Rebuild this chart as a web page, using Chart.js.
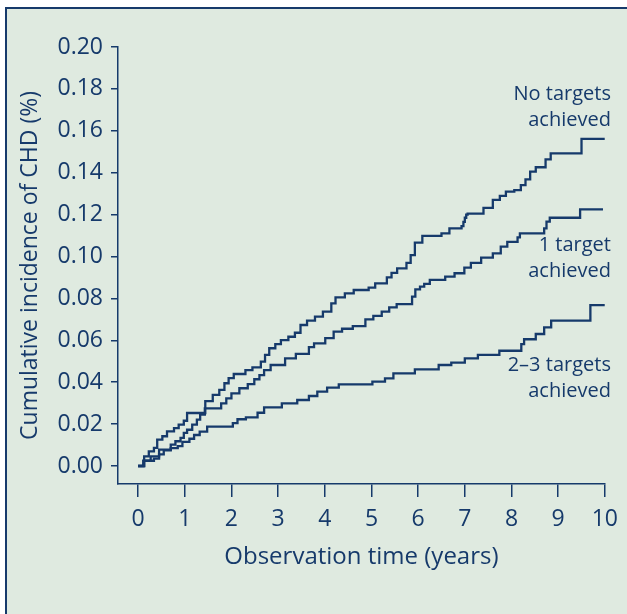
<!DOCTYPE html>
<html>
<head>
<meta charset="utf-8">
<script src="https://cdn.jsdelivr.net/npm/chart.js@4"></script>
<style>
  html, body { margin: 0; padding: 0; background: #fff; overflow: hidden; }
  #panel {
    position: absolute; left: 5px; top: 7px; width: 700px; height: 700px;
    background: #dfeae0; border-top: 2px solid #163a6b; border-left: 2px solid #163a6b;
  }
  #chart { position: absolute; left: 0; top: 0; }
</style>
</head>
<body>
<div id="panel"></div>
<canvas id="chart" width="627" height="614"></canvas>
<script>
const NAVY = "#163a6b";
const FONT = "'Open Sans', 'Noto Sans', sans-serif";

const X_TICKS = [0, 1, 2, 3, 4, 5, 6, 7, 8, 9, 10];
const Y_TICKS = [0, 0.02, 0.04, 0.06, 0.08, 0.10, 0.12, 0.14, 0.16, 0.18, 0.20];

// No targets achieved
const NONE_T = [0, 0.13, 0.23, 0.34, 0.41, 0.52, 0.62, 0.77, 0.87, 0.98, 1.05, 1.44, 1.60, 1.74, 1.85,
  1.94, 2.05, 2.30, 2.45, 2.63, 2.72, 2.81, 2.94, 3.06, 3.22, 3.36, 3.48, 3.62, 3.79, 3.96, 4.14,
  4.23, 4.43, 4.62, 4.94, 5.08, 5.33, 5.43, 5.55, 5.75, 5.84, 5.93, 6.09, 6.50, 6.67, 6.93, 6.97,
  7.00, 7.03, 7.06, 7.40, 7.60, 7.75, 7.88, 8.06, 8.20, 8.30, 8.40, 8.52, 8.73, 8.84, 9.50, 10.0];
const NONE_V = [0, 0.0046, 0.0070, 0.0086, 0.0126, 0.0142, 0.0165, 0.0181, 0.0197, 0.0216, 0.0253,
  0.0310, 0.0339, 0.0363, 0.0395, 0.0419, 0.0439, 0.0458, 0.0471, 0.0498, 0.0530, 0.0562, 0.0582,
  0.0601, 0.0617, 0.0636, 0.0673, 0.0694, 0.0713, 0.0737, 0.0776, 0.0805, 0.0824, 0.0840, 0.0851,
  0.0872, 0.0900, 0.0922, 0.0943, 0.0970, 0.1007, 0.1066, 0.1098, 0.1110, 0.1134, 0.1145, 0.1165,
  0.1185, 0.1200, 0.1205, 0.1232, 0.1270, 0.1289, 0.1310, 0.1317, 0.1341, 0.1368, 0.1405, 0.1426,
  0.1464, 0.1492, 0.1561, 0.1561];

// 1 target achieved
const ONE_T = [0, 0.11, 0.27, 0.45, 0.70, 0.80, 0.91, 0.98, 1.05, 1.16, 1.26, 1.33, 1.43, 1.78, 1.89,
  2.00, 2.17, 2.35, 2.49, 2.60, 2.70, 2.84, 3.15, 3.38, 3.66, 3.77, 4.01, 4.19, 4.37, 4.60, 4.87,
  5.04, 5.22, 5.38, 5.54, 5.87, 5.94, 6.04, 6.13, 6.25, 6.58, 6.78, 6.99, 7.13, 7.35, 7.60, 7.77,
  7.91, 8.13, 8.18, 8.70, 8.75, 8.82, 9.47, 9.96];
const ONE_V = [0, 0.0025, 0.0046, 0.0078, 0.0102, 0.0118, 0.0134, 0.0158, 0.0173, 0.0197, 0.0221,
  0.0245, 0.0275, 0.0299, 0.0323, 0.0347, 0.0371, 0.0391, 0.0414, 0.0434, 0.0458, 0.0482, 0.0514,
  0.0535, 0.0567, 0.0585, 0.0610, 0.0641, 0.0655, 0.0668, 0.0700, 0.0717, 0.0737, 0.0757, 0.0773,
  0.0808, 0.0843, 0.0856, 0.0869, 0.0888, 0.0904, 0.0920, 0.0947, 0.0970, 0.0995, 0.1015, 0.1047,
  0.1070, 0.1091, 0.1110, 0.1134, 0.1166, 0.1185, 0.1225, 0.1225];

// 2–3 targets achieved
const MULTI_T = [0, 0.13, 0.34, 0.45, 0.55, 0.70, 0.85, 0.95, 1.10, 1.20, 1.32, 1.48, 2.03, 2.13, 2.31,
  2.56, 2.70, 3.08, 3.41, 3.66, 3.84, 4.05, 4.30, 5.02, 5.29, 5.47, 5.93, 6.44, 6.71, 7.00, 7.28,
  7.74, 8.21, 8.27, 8.52, 8.70, 8.85, 9.69, 10.0];
const MULTI_V = [0, 0.0025, 0.0035, 0.0055, 0.0075, 0.0085, 0.0095, 0.0115, 0.0130, 0.0148, 0.0164,
  0.0188, 0.0205, 0.0223, 0.0232, 0.0254, 0.0280, 0.0299, 0.0315, 0.0334, 0.0355, 0.0374, 0.0390,
  0.0403, 0.0418, 0.0442, 0.0461, 0.0482, 0.0493, 0.0514, 0.0530, 0.0550, 0.0582, 0.0605, 0.0630,
  0.0662, 0.0694, 0.0768, 0.0768];

const SERIES_NAMES = ["No targets achieved", "1 target achieved", "2–3 targets achieved"];
const NOTE_LINES = [["No targets", "achieved"], ["1 target", "achieved"], ["2–3 targets", "achieved"]];

const toPoints = (t, v) => t.map((x, i) => ({ x, y: v[i] }));

const line = (label, t, v) => ({
  label, data: toPoints(t, v),
  borderColor: NAVY, borderWidth: 2.3, stepped: true,
  pointRadius: 0, fill: false,
});

// text beside each curve, anchored in data units
const notes = {
  id: "notes",
  afterDatasetsDraw(chart) {
    const { ctx, scales: { x, y } } = chart;
    const anchors = [[10.13, 0.1776], [10.13, 0.1055], [10.13, 0.0482]];
    ctx.save();
    ctx.fillStyle = NAVY;
    ctx.font = "20px " + FONT;
    ctx.textAlign = "right";
    ctx.textBaseline = "middle";
    NOTE_LINES.forEach((lines, i) => {
      const px = x.getPixelForValue(anchors[i][0]);
      const py = y.getPixelForValue(anchors[i][1]);
      lines.forEach((s, j) => ctx.fillText(s, px, py + j * 26));
    });
    ctx.restore();
  },
};

new Chart(document.getElementById("chart"), {
  type: "line",
  data: {
    datasets: [
      line(SERIES_NAMES[0], NONE_T, NONE_V),
      line(SERIES_NAMES[1], ONE_T, ONE_V),
      line(SERIES_NAMES[2], MULTI_T, MULTI_V),
    ],
  },
  options: {
    responsive: false, animation: false,
    layout: { padding: { left: 0, top: 47, right: 19, bottom: 0 } },
    plugins: { legend: { display: false }, tooltip: { enabled: false } },
    scales: {
      x: {
        type: "linear", min: -0.43, max: 10,
        afterBuildTicks: s => { s.ticks = X_TICKS.map(value => ({ value })); },
        afterFit: s => { s.height = 130; },
        grid: { drawOnChartArea: false, tickLength: 13, color: NAVY, lineWidth: 1.5 },
        border: { color: NAVY, width: 1.5 },
        ticks: { color: NAVY, font: { family: FONT, size: 23 }, padding: 9, maxRotation: 0, autoSkip: false },
        title: {
          display: true, text: "Observation time (years)", color: NAVY,
          font: { family: FONT, size: 24 }, padding: { top: 0, bottom: 42 },
        },
      },
      y: {
        type: "linear", min: -0.0086, max: 0.20,
        afterBuildTicks: s => { s.ticks = Y_TICKS.map(value => ({ value })); },
        afterFit: s => { s.width = 118; },
        grid: { drawOnChartArea: false, tickLength: 7, color: NAVY, lineWidth: 1.5 },
        border: { color: NAVY, width: 1.5 },
        ticks: {
          color: NAVY, font: { family: FONT, size: 23 }, padding: 8,
          callback: v => v.toFixed(2),
        },
        title: {
          display: true, text: "Cumulative incidence of CHD (%)", color: NAVY,
          font: { family: FONT, size: 23 }, padding: { top: 17, bottom: 0 },
        },
      },
    },
  },
  plugins: [notes],
});
</script>
</body>
</html>
